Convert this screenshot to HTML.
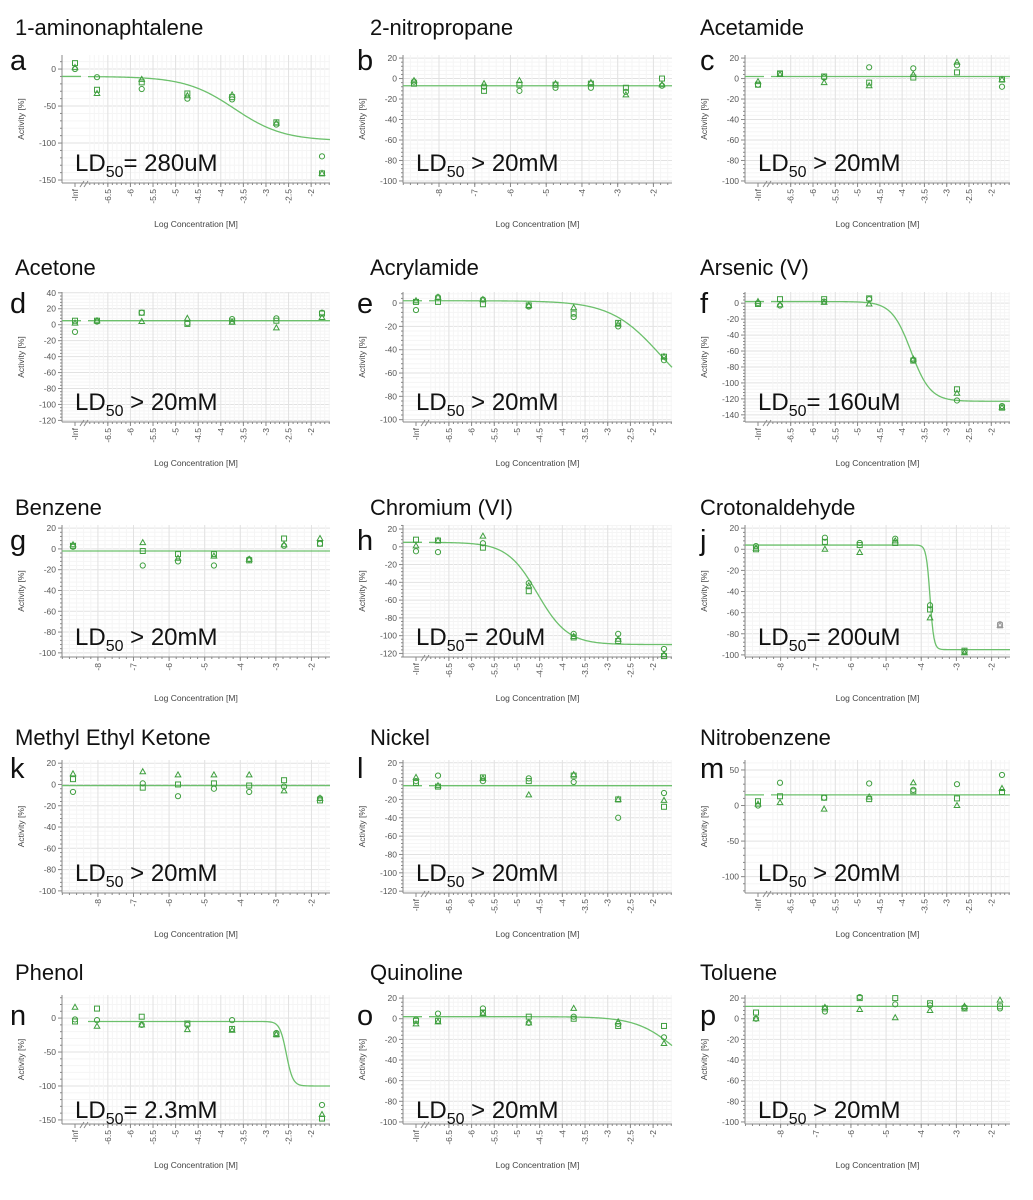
<!DOCTYPE html>
<html><head><meta charset="utf-8">
<style>
html,body{margin:0;padding:0;background:#fff;}
svg{display:block;font-family:"Liberation Sans",Arial,sans-serif;}
</style></head>
<body>
<svg id="fig" width="1033" height="1200" viewBox="0 0 1033 1200" xmlns="http://www.w3.org/2000/svg"></svg>
<script>
// ---- data ----
const panelLetters = ["a","b","c","d","e","f","g","h","j","k","l","m","n","o","p"];
const panelTitles = ["1-aminonaphtalene","2-nitropropane","Acetamide","Acetone","Acrylamide","Arsenic (V)","Benzene","Chromium (VI)","Crotonaldehyde","Methyl Ethyl Ketone","Nickel","Nitrobenzene","Phenol","Quinoline","Toluene"];
const ld50Labels = ["= 280uM"," > 20mM"," > 20mM"," > 20mM"," > 20mM","= 160uM"," > 20mM","= 20uM","= 200uM"," > 20mM"," > 20mM"," > 20mM","= 2.3mM"," > 20mM"," > 20mM"];
const axisKinds = ["inf","log","inf","inf","inf","inf","log","inf","log","log","inf","inf","inf","inf","log"];
const infConcentrations = [-Infinity,-6.74,-5.75,-4.74,-3.75,-2.77,-1.76];
const logConcentrations = [-8.7,-6.74,-5.75,-4.74,-3.75,-2.77,-1.76];
const infTickLabels = ["-Inf","-6.5","-6","-5.5","-5","-4.5","-4","-3.5","-3","-2.5","-2"];
const logTickLabels = ["-8","-7","-6","-5","-4","-3","-2"];
const yTicks = [
 [0,-50,-100,-150],[20,0,-20,-40,-60,-80,-100],[20,0,-20,-40,-60,-80,-100],
 [40,20,0,-20,-40,-60,-80,-100,-120],[0,-20,-40,-60,-80,-100],[0,-20,-40,-60,-80,-100,-120,-140],
 [20,0,-20,-40,-60,-80,-100],[20,0,-20,-40,-60,-80,-100,-120],[20,0,-20,-40,-60,-80,-100],
 [20,0,-20,-40,-60,-80,-100],[20,0,-20,-40,-60,-80,-100,-120],[50,0,-50,-100],
 [0,-50,-100,-150],[20,0,-20,-40,-60,-80,-100],[20,0,-20,-40,-60,-80,-100]];
const circleVals = [
 [0,-11,-27,-40,-41,-75,-118],[-3,-8,-12,-9,-9,-13,-7],[-6,5,1,11,10,13,-8],
 [-9,4,15,2,7,8,15],[-6,5,3,-3,-12,-20,-49],[0,-3,2,5,-71,-122,-129],
 [2,-16,-12,-16,-10,3,5],[-5,-6,4,-41,-98,-98,-115],[3,11,6,10,-53,-97,-71],
 [-7,1,-11,-4,-7,-2,-13],[0,6,0,3,-1,-40,-13],[0,32,11,31,22,30,43],
 [-2,-3,-10,-10,-3,-22,-128],[-1,5,10,-4,2,-5,-18],[0,7,21,14,13,11,10]];
const squareVals = [
 [8,-28,-18,-33,-38,-72,-141],[-5,-12,-6,-6,-5,-9,0],[-6,5,2,-4,1,6,-1],
 [5,5,15,1,4,5,14],[1,1,-1,-2,-9,-17,-46],[-1,5,5,6,-72,-108,-131],
 [3,-2,-5,-5,-11,10,5],[8,7,-1,-50,-102,-106,-123],[0,7,4,6,-57,-96,-72],
 [5,-3,0,1,-1,4,-15],[-2,-6,4,0,6,-20,-28],[6,13,11,9,20,10,19],
 [-5,14,2,-8,-16,-24,-148],[-2,-2,6,2,0,-7,-7],[6,10,20,20,15,10,12]];
const triangleVals = [
 [2,-33,-14,-36,-35,-73,-141],[-2,-5,-2,-5,-4,-16,-6],[-3,4,-4,-7,4,16,-1],
 [2,5,4,8,3,-4,9],[2,5,3,-2,-4,-18,-46],[2,-2,1,-1,-70,-113,-131],
 [4,6,-9,-7,-10,4,10],[1,7,12,-44,-101,-104,-121],[1,0,-3,8,-65,-98,-72],
 [10,12,9,9,9,-6,-13],[4,-5,3,-15,7,-20,-21],[2,4,-5,12,32,0,24],
 [16,-12,-10,-17,-18,-24,-142],[-5,-3,5,-4,10,-3,-24],[0,11,9,1,8,12,18]];
const excludedPoint = [-1,-1,-1,-1,-1,-1,-1,-1,6,-1,-1,-1,-1,-1,-1];
const fitTop    = [-10,-7,2,5,2,2,-2,5,4,-1,-5,15,-5,2,12];
const fitBottom = [-97,-7,2,5,-90,-123,-2,-110,-95,-1,-5,15,-100,-60,12];
const fitLogEC50= [-3.7,-4,-4,-4,-1.85,-3.8,-4,-4.55,-3.75,-4,-4,-4,-2.55,-1.5,-4];
const fitHill   = [0.8,1,1,1,0.8,2,1,1.3,8,1,1,1,6,1,1];

// ---- layout (pixels) ----
const colLeft=[62,403,745], colRight=[330,672,1010];
const rowTop=[55,292,525,760,995], rowBottom=[183,422,657,893,1124];
const yDomains=[[19,-154],[23,-102],[23,-102],[41,-122],[9.5,-102],[14,-149],[23,-104],[24.5,-124],[23,-102],[23,-102],[23,-122],[64,-123],[34,-156],[23,-102],[23,-102]];
const titleY=[27,267,507,737,972], letterY=[60,303,540,768,1015];
const titleX=[15,370,700], letterX=[10,357,700];

const NS="http://www.w3.org/2000/svg";
const svg=document.getElementById('fig');
function mk(tag,attrs,parent){const e=document.createElementNS(NS,tag);for(const k in attrs)e.setAttribute(k,attrs[k]);(parent||svg).appendChild(e);return e;}
const GREEN="#3f9f3f", LINE="#6cc06c";

panelLetters.forEach((L,i)=>{
  const col=i%3,row=Math.floor(i/3);
  const left=colLeft[col],right=colRight[col],top=rowTop[row],bottom=rowBottom[row];
  const [yMax,yMin]=yDomains[i];
  const g=mk('g',{});
  
  
  const yS=v=>top+(yMax-v)/(yMax-yMin)*(bottom-top);
  const kind=axisKinds[i];
  let xS, concs;
  if(kind==='inf'){
    const k=(right-8-left-35)/4.98;
    xS=v=>v===-Infinity?left+13:left+35+(v+6.74)*k;
    concs=infConcentrations;
  } else {
    const k=(right-10-left-11)/6.94;
    xS=v=>left+11+(v+8.7)*k;
    concs=logConcentrations;
  }
  const t=mk('text',{x:titleX[col],y:titleY[row]+8,'font-size':22,fill:'#111'},g);t.textContent=panelTitles[i];
  
  const lt=mk('text',{x:letterX[col],y:letterY[row]+10,'font-size':29,fill:'#111'},g);lt.textContent=L;
  
  const ticks=yTicks[i];const step=ticks[0]-ticks[1];
  for(let v=Math.ceil(yMin/(step/5))*(step/5);v<=yMax;v+=step/5){
    const major=Math.abs(v/step-Math.round(v/step))<1e-6;
    mk('line',{x1:left,x2:right,y1:yS(v),y2:yS(v),stroke:major?'#e2e2e2':'#f5f5f5','stroke-width':1},g);
    mk('line',{x1:left-(major?4:2),x2:left,y1:yS(v),y2:yS(v),stroke:'#888','stroke-width':1},g);
  }
  const xticks=[];
  if(kind==='inf'){infTickLabels.forEach((s,j)=>{if(j>0)xticks.push([-6.5+(j-1)*0.5,s]);});}
  else logTickLabels.forEach(s=>xticks.push([parseFloat(s),s]));
  const minorStep=kind==='inf'?0.1:0.2;
  for(let v=-9;v<=-1.4;v+=minorStep){const x=xS(v);if(x<left+(kind==='inf'?26:0)||x>right)continue;
    mk('line',{x1:x,x2:x,y1:top,y2:bottom,stroke:'#f5f5f5'},g);
    mk('line',{x1:x,x2:x,y1:bottom,y2:bottom+2,stroke:'#888'},g);}
  xticks.forEach(([v,s])=>{const x=xS(v);
    mk('line',{x1:x,x2:x,y1:top,y2:bottom,stroke:'#e2e2e2'},g);
    mk('line',{x1:x,x2:x,y1:bottom,y2:bottom+4,stroke:'#888'},g);
    const tx=mk('text',{x:0,y:0,'font-size':8.5,fill:'#555','text-anchor':'end',transform:`translate(${x+3},${bottom+6}) rotate(-90)`},g);tx.textContent=s;
    });
  if(kind==='inf'){
    const x=xS(-Infinity);
    mk('line',{x1:x,x2:x,y1:bottom,y2:bottom+4,stroke:'#888'},g);
    const tx=mk('text',{x:0,y:0,'font-size':8.5,fill:'#555','text-anchor':'end',transform:`translate(${x+3},${bottom+6}) rotate(-90)`},g);tx.textContent=infTickLabels[0];
    
    mk('path',{d:`M${left+18},${bottom+4} l4,-6 M${left+22},${bottom+4} l4,-6`,stroke:'#888',fill:'none'},g);
  }
  ticks.forEach(v=>{const ty=mk('text',{x:left-6,y:yS(v)+3,'font-size':8.5,fill:'#555','text-anchor':'end'},g);ty.textContent=v;
    });
  mk('line',{x1:left,x2:left,y1:top,y2:bottom,stroke:'#888'},g);
  mk('line',{x1:left,x2:right,y1:bottom,y2:bottom,stroke:'#888'},g);
  const yt=mk('text',{x:0,y:0,'font-size':8.5,fill:'#444','text-anchor':'middle',transform:`translate(${left-38},${(top+bottom)/2}) rotate(-90)`},g);yt.textContent='Activity [%]';
  
  const xt=mk('text',{x:(left+right)/2,y:bottom+44,'font-size':8.5,fill:'#444','text-anchor':'middle'},g);xt.textContent='Log Concentration [M]';
  
  const f=v=>fitBottom[i]+(fitTop[i]-fitBottom[i])/(1+Math.pow(10,(v-fitLogEC50[i])*fitHill[i]));
  const xStart=kind==='inf'?left+26:left;
  const kx=kind==='inf'?(right-8-left-35)/4.98:(right-10-left-11)/6.94;
  const xInv=px=>kind==='inf'?(px-left-35)/kx-6.74:(px-left-11)/kx-8.7;
  let d='';for(let p=xStart;p<=right;p+=1){d+=(d?'L':'M')+p+','+yS(f(xInv(p))).toFixed(2);}
  const fl=mk('path',{d:d,stroke:LINE,'stroke-width':1.3,fill:'none'},g);
  
  if(kind==='inf'&&L!=='n'){const yy=yS(fitTop[i]);const s=mk('line',{x1:left,x2:left+19,y1:yy,y2:yy,stroke:LINE,'stroke-width':1.3},g);
    }
  concs.forEach((c,j)=>{
    const x=xS(c);const col2=excludedPoint[i]===j?'#999':GREEN;
    const cy=yS(circleVals[i][j]);
    const ci=mk('circle',{cx:x,cy:cy,r:2.6,fill:'none',stroke:col2,'stroke-width':1},g);
    
    const sy=yS(squareVals[i][j]);
    const sq=mk('rect',{x:x-2.5,y:sy-2.5,width:5,height:5,fill:'none',stroke:col2,'stroke-width':1},g);
    
    const ty2=yS(triangleVals[i][j]);
    const tr=mk('path',{d:`M${x},${ty2-3} L${x+2.8},${ty2+2} L${x-2.8},${ty2+2} Z`,fill:'none',stroke:col2,'stroke-width':1},g);
    
  });
  const ly=bottom-(row===4?14:20)+8;
  const ld=mk('text',{x:left+13,y:ly,'font-size':24,fill:'#111'},g);
  
  const t1=mk('tspan',{},ld);t1.textContent='LD';
  const t2=mk('tspan',{'font-size':16,dy:6},ld);t2.textContent='50';
  const t3=mk('tspan',{dy:-6},ld);t3.textContent=ld50Labels[i];
});
</script>
</body></html>
